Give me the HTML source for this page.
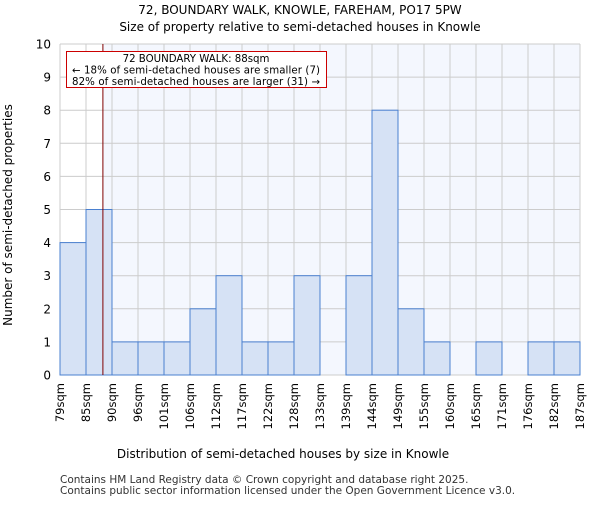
<!DOCTYPE html>
<html><head><meta charset="utf-8"><style>body{margin:0;background:#fff}svg text{font-family:"DejaVu Sans","Liberation Sans",sans-serif}</style></head>
<body>
<svg id="chart" width="600" height="500" xmlns="http://www.w3.org/2000/svg">
<text x="300" y="14" text-anchor="middle" font-size="12">72, BOUNDARY WALK, KNOWLE, FAREHAM, PO17 5PW</text>
<text x="300" y="31" text-anchor="middle" font-size="12">Size of property relative to semi-detached houses in Knowle</text>
<g id="plot"></g>
<text x="283" y="458" text-anchor="middle" font-size="12">Distribution of semi-detached houses by size in Knowle</text>
<text transform="translate(12,215) rotate(-90)" text-anchor="middle" font-size="12">Number of semi-detached properties</text>
<text x="60" y="483" font-size="10.5" fill="#333">Contains HM Land Registry data © Crown copyright and database right 2025.</text>
<text x="60" y="494" font-size="10.5" fill="#333">Contains public sector information licensed under the Open Government Licence v3.0.</text>
</svg>
<script>
const binLabels=["79sqm","85sqm","90sqm","96sqm","101sqm","106sqm","112sqm","117sqm","122sqm","128sqm","133sqm","139sqm","144sqm","149sqm","155sqm","160sqm","165sqm","171sqm","176sqm","182sqm","187sqm"];
const counts=[4,5,1,1,1,2,3,1,1,3,0,3,8,2,1,0,1,0,1,1];
const yTicks=[0,1,2,3,4,5,6,7,8,9,10];
const markerIndex=1.65;
const L=60,R=580,T=44,B=375,yMax=10;
const bw=(R-L)/counts.length;
const xS=i=>L+i*bw, yS=v=>B-(B-T)*v/yMax;
const NS="http://www.w3.org/2000/svg",g=document.getElementById('plot');
function el(t,a){const e=document.createElementNS(NS,t);for(const k in a)e.setAttribute(k,a[k]);g.appendChild(e);return e;}
const mx=xS(markerIndex);
let e=el('rect',{x:mx,y:T,width:R-mx,height:B-T,fill:'#f4f7fe'});


yTicks.forEach(v=>{let l=el('line',{x1:L,x2:R,y1:yS(v),y2:yS(v),stroke:'#ccc','stroke-width':1});


let t=el('text',{x:L-9,y:yS(v)+4.5,'text-anchor':'end','font-size':12});t.textContent=v;

});
binLabels.forEach((s,i)=>{let l=el('line',{x1:xS(i),x2:xS(i),y1:T,y2:B,stroke:'#ccc','stroke-width':1});


let x=xS(i)+4,t=el('text',{x:x,y:B+8,'text-anchor':'end','font-size':11.5,transform:`rotate(-90 ${x} ${B+8})`});t.textContent=s;

});
counts.forEach((c,i)=>{if(!c)return;let r=el('rect',{x:xS(i),y:yS(c),width:bw,height:B-yS(c),fill:'#d6e2f5',stroke:'#4a80d0','stroke-width':1});

});
e=el('line',{x1:mx,x2:mx,y1:T,y2:B,stroke:'#800000','stroke-width':1});


e=el('rect',{x:66.5,y:51.5,width:260,height:36,fill:'#fff',stroke:'#cc0000','stroke-width':1});


["72 BOUNDARY WALK: 88sqm","← 18% of semi-detached houses are smaller (7)","82% of semi-detached houses are larger (31) →"].forEach((s,k)=>{let t=el('text',{x:196,y:62+k*11.5,'text-anchor':'middle','font-size':10.2,textLength:k?248:0});if(!k)t.removeAttribute('textLength');t.textContent=s;

});
</script>
</body></html>
